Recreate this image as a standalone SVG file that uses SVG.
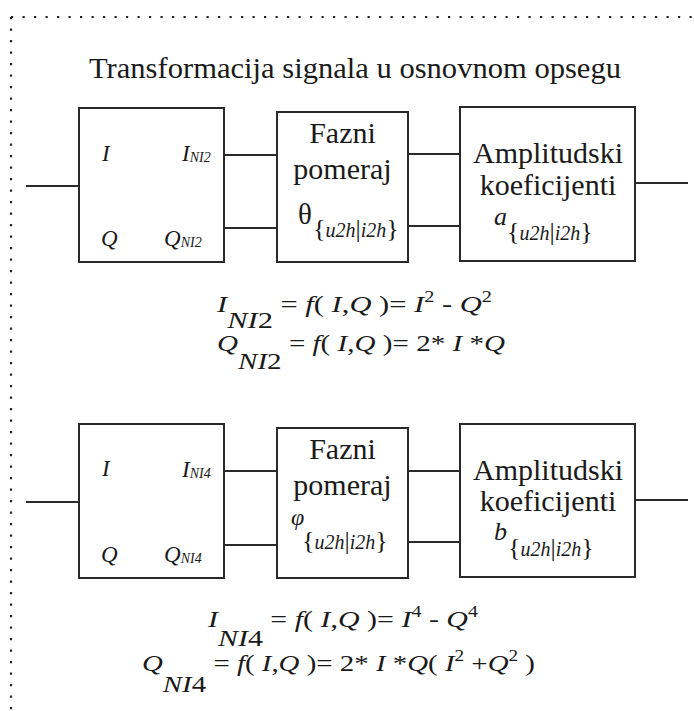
<svg xmlns="http://www.w3.org/2000/svg" width="694" height="711" viewBox="0 0 694 711">
<style>
.box{fill:#fff;stroke:#2a2a2a;stroke-width:2}
.ln{stroke:#2a2a2a;stroke-width:2;fill:none}
.t{font-family:"Liberation Serif","Tinos","Times New Roman",serif;fill:#1a1a1a}
.i{font-style:italic}
.lbl{font-size:30px}
.io{font-size:23px;font-style:italic}
.sb{font-size:14px;font-style:italic}
.eq{font-size:24px}
.sup{font-size:16px}
.br{font-size:26px;font-style:normal}
.sx{font-size:20px;font-style:italic}
</style>
<rect width="694" height="711" fill="#fff"/>
<path d="M11 17 H694 M11 17 V711" stroke="#222" stroke-width="2.2" stroke-dasharray="2.2 9.3" fill="none"/>
<text class="t" x="89" y="78" font-size="30" textLength="532" lengthAdjust="spacingAndGlyphs">Transformacija signala u osnovnom opsegu</text>

<g id="connectors">
<path class="ln" d="M26 186 H79 M224 155 H277 M224 228 H277 M408 154 H460 M408 226 H460 M635 183 H688"/>
<path class="ln" d="M26 502 H79 M224 471 H277 M224 545 H277 M408 471 H460 M408 542 H460 M635 500 H688"/>
</g>

<g id="nl2">
<rect class="box" x="79" y="108" width="145" height="154"/>
<text class="t io" x="102" y="161">I</text>
<text class="t io" x="101" y="246">Q</text>
<text class="t" x="182" y="161"><tspan class="io">I</tspan><tspan class="sb" dy="1">NI2</tspan></text>
<text class="t" x="164" y="246"><tspan class="io">Q</tspan><tspan class="sb" dy="1">NI2</tspan></text>
</g>

<g id="faza1">
<rect class="box" x="277" y="112" width="131" height="150"/>
<text class="t lbl" x="342.5" y="143" text-anchor="middle">Fazni</text>
<text class="t lbl" x="342.5" y="179" text-anchor="middle">pomeraj</text>
<text class="t" x="298" y="224" font-size="29">θ</text>
<text class="t" x="313" y="237"><tspan class="br">{</tspan><tspan class="sx">u2h</tspan><tspan class="br" font-size="22">|</tspan><tspan class="sx">i2h</tspan><tspan class="br">}</tspan></text>
</g>

<g id="amp1">
<rect class="box" x="460" y="107" width="175" height="154"/>
<text class="t lbl" x="548" y="163" text-anchor="middle">Amplitudski</text>
<text class="t lbl" x="548" y="195" text-anchor="middle">koeficijenti</text>
<text class="t i" x="494" y="225" font-size="26">a</text>
<text class="t" x="507" y="240"><tspan class="br">{</tspan><tspan class="sx">u2h</tspan><tspan class="br" font-size="22">|</tspan><tspan class="sx">i2h</tspan><tspan class="br">}</tspan></text>
</g>

<g id="eq1">
<text class="t eq" x="217" y="312" textLength="275" lengthAdjust="spacingAndGlyphs"><tspan class="i">I</tspan><tspan class="i" dy="16">NI</tspan><tspan>2</tspan><tspan dy="-16"> = </tspan><tspan class="i">f</tspan>( <tspan class="i">I</tspan>,<tspan class="i">Q</tspan> )= <tspan class="i">I</tspan><tspan class="sup" dy="-10">2</tspan><tspan dy="10"> - </tspan><tspan class="i">Q</tspan><tspan class="sup" dy="-10">2</tspan></text>
<text class="t eq" x="217" y="351" textLength="288" lengthAdjust="spacingAndGlyphs"><tspan class="i">Q</tspan><tspan class="i" dy="18">NI</tspan><tspan>2</tspan><tspan dy="-18"> = </tspan><tspan class="i">f</tspan>( <tspan class="i">I</tspan>,<tspan class="i">Q</tspan> )= 2* <tspan class="i">I</tspan> *<tspan class="i">Q</tspan></text>
</g>

<g id="nl4">
<rect class="box" x="79" y="424" width="145" height="154"/>
<text class="t io" x="102" y="476">I</text>
<text class="t io" x="101" y="562">Q</text>
<text class="t" x="182" y="477"><tspan class="io">I</tspan><tspan class="sb" dy="1">NI4</tspan></text>
<text class="t" x="164" y="562"><tspan class="io">Q</tspan><tspan class="sb" dy="1">NI4</tspan></text>
</g>

<g id="faza2">
<rect class="box" x="277" y="428" width="131" height="150"/>
<text class="t lbl" x="342.5" y="459" text-anchor="middle">Fazni</text>
<text class="t lbl" x="342.5" y="495" text-anchor="middle">pomeraj</text>
<text class="t i" x="291" y="525" font-size="24">φ</text>
<text class="t" x="302" y="549"><tspan class="br">{</tspan><tspan class="sx">u2h</tspan><tspan class="br" font-size="22">|</tspan><tspan class="sx">i2h</tspan><tspan class="br">}</tspan></text>
</g>

<g id="amp2">
<rect class="box" x="460" y="424" width="175" height="153"/>
<text class="t lbl" x="548" y="480" text-anchor="middle">Amplitudski</text>
<text class="t lbl" x="548" y="511" text-anchor="middle">koeficijenti</text>
<text class="t i" x="494" y="540" font-size="26">b</text>
<text class="t" x="508" y="556"><tspan class="br">{</tspan><tspan class="sx">u2h</tspan><tspan class="br" font-size="22">|</tspan><tspan class="sx">i2h</tspan><tspan class="br">}</tspan></text>
</g>

<g id="eq2">
<text class="t eq" x="208" y="627" textLength="270" lengthAdjust="spacingAndGlyphs"><tspan class="i">I</tspan><tspan class="i" dy="19">NI</tspan><tspan>4</tspan><tspan dy="-19"> = </tspan><tspan class="i">f</tspan>( <tspan class="i">I</tspan>,<tspan class="i">Q</tspan> )= <tspan class="i">I</tspan><tspan class="sup" dy="-10">4</tspan><tspan dy="10"> - </tspan><tspan class="i">Q</tspan><tspan class="sup" dy="-10">4</tspan></text>
<text class="t eq" x="142" y="671" textLength="393" lengthAdjust="spacingAndGlyphs"><tspan class="i">Q</tspan><tspan class="i" dy="21">NI</tspan><tspan>4</tspan><tspan dy="-21"> = </tspan><tspan class="i">f</tspan>( <tspan class="i">I</tspan>,<tspan class="i">Q</tspan> )= 2* <tspan class="i">I</tspan> *<tspan class="i">Q</tspan>( <tspan class="i">I</tspan><tspan class="sup" dy="-10">2</tspan><tspan dy="10"> +</tspan><tspan class="i">Q</tspan><tspan class="sup" dy="-10">2</tspan><tspan dy="10"> )</tspan></text>
</g>
</svg>
